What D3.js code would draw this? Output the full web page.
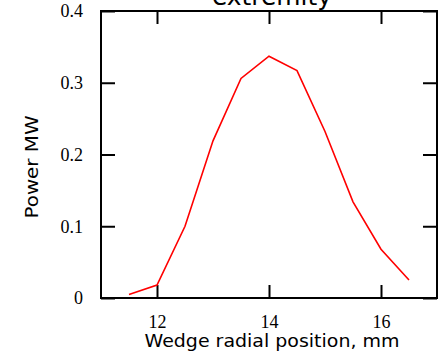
<!DOCTYPE html>
<html><head><meta charset="utf-8">
<script src="https://cdn.jsdelivr.net/npm/d3@7"></script>
<style>body{margin:0;background:#fff}svg{display:block}</style>
</head><body>
<script>
const positions = [11.5, 12, 12.5, 13, 13.5, 14, 14.5, 15, 15.5, 16, 16.5];
const power = [0.005, 0.018, 0.100, 0.219, 0.306, 0.337, 0.317, 0.232, 0.134, 0.068, 0.025];
const xTicks = [12, 14, 16];
const xTickLabels = ["12", "14", "16"];
const yTicks = [0, 0.1, 0.2, 0.3, 0.4];
const yTickLabels = ["0", "0.1", "0.2", "0.3", "0.4"];
const titleText = "extremity";
const xLabel = "Wedge radial position, mm";
const yLabel = "Power MW";

const W = 439, H = 358;
const L = 101, R = 437, T = 11, B = 298;
const svg = d3.select("body").append("svg").attr("width", W).attr("height", H);
const x = d3.scaleLinear().domain([11, 17]).range([L, R]);
const y = d3.scaleLinear().domain([0, 0.4]).range([B, T]);

// title (cut off at top, as in the reference)
svg.append("text").attr("x", 272).attr("y", 5).attr("text-anchor", "middle")
  .attr("font-family", "DejaVu Sans, sans-serif").attr("font-size", 24)
  .attr("textLength", 120).attr("lengthAdjust", "spacingAndGlyphs").text(titleText);

// axes
const tick = 13;
const bottomAxis = d3.axisBottom(x).tickValues(xTicks).tickSize(-tick).tickSizeOuter(0).tickPadding(tick + 4)
  .tickFormat((d, i) => xTickLabels[i]);
const topAxis = d3.axisTop(x).tickValues(xTicks).tickSize(-tick).tickSizeOuter(0).tickFormat("");
const leftAxis = d3.axisLeft(y).tickValues(yTicks).tickSize(-14).tickSizeOuter(0).tickPadding(18)
  .tickFormat((d, i) => yTickLabels[i]);
const rightAxis = d3.axisRight(y).tickValues(yTicks).tickSize(-14).tickSizeOuter(0).tickFormat("");

function style(g) {
  g.select(".domain").remove();
  g.selectAll("line").attr("stroke", "#000").attr("stroke-width", 2);
  g.selectAll("text").attr("font-family", "Liberation Serif, Times New Roman, serif")
    .attr("font-size", 18).attr("fill", "#000");
}
svg.append("g").attr("transform", `translate(0,${B})`).call(bottomAxis).call(style);
svg.append("g").attr("transform", `translate(0,${T})`).call(topAxis).call(style);
svg.append("g").attr("transform", `translate(${L},0)`).call(leftAxis).call(style);
svg.append("g").attr("transform", `translate(${R},0)`).call(rightAxis).call(style);

// frame
svg.append("rect").attr("x", L).attr("y", T).attr("width", R - L).attr("height", B - T)
  .attr("fill", "none").attr("stroke", "#000").attr("stroke-width", 2);

// line
const line = d3.line().x((d, i) => x(positions[i])).y(d => y(d));
svg.append("path").datum(power).attr("d", line).attr("fill", "none")
  .attr("stroke", "#ff0000").attr("stroke-width", 1.6);

// labels
svg.append("text").attr("x", 272).attr("y", 347).attr("text-anchor", "middle")
  .attr("font-family", "DejaVu Sans, sans-serif").attr("font-size", 18)
  .attr("textLength", 255).attr("lengthAdjust", "spacingAndGlyphs").text(xLabel);
svg.append("text").attr("transform", "translate(38,167) rotate(-90)").attr("text-anchor", "middle")
  .attr("font-family", "DejaVu Sans, sans-serif").attr("font-size", 18)
  .attr("textLength", 103).attr("lengthAdjust", "spacingAndGlyphs").text(yLabel);
</script>
</body></html>
